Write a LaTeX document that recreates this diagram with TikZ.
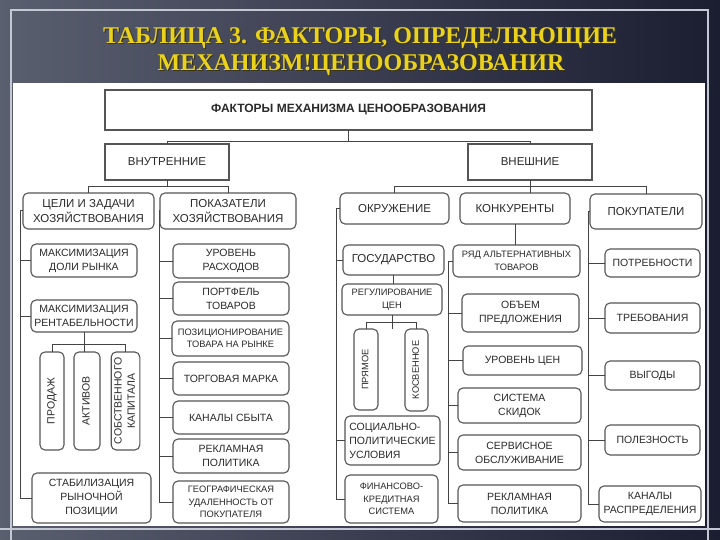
\documentclass[tikz,border=0pt]{standalone}
\usepackage{fontspec}
\setmainfont{Liberation Sans}
\newfontfamily\titlefont{Liberation Serif}
\definecolor{bgL}{HTML}{5A5F70}
\definecolor{bgR}{HTML}{1B1D30}
\definecolor{framec}{HTML}{C4C8D4}
\definecolor{boxgray}{HTML}{555555}
\definecolor{linegray}{HTML}{444444}
\definecolor{textgray}{HTML}{2A2A2A}
\definecolor{gold}{HTML}{EAD21C}
\definecolor{goldshadow}{HTML}{3A3410}
\newcommand{\bx}[7][]{\node[box,#1,minimum width={#4-#2},minimum height={#5-#3}] (#6) at ({(#2+#4)/2},{(#3+#5)/2}) {#7};}
\newcommand{\vtext}[1]{\rotatebox{90}{\renewcommand\arraystretch{0.95}\begin{tabular}{@{}c@{}}#1\end{tabular}}}
\begin{document}
\begin{tikzpicture}[x=1pt,y=-1pt,
  box/.style={draw=boxgray, line width=1.1pt, rounded corners=5pt, fill=white, inner sep=1pt, outer sep=0pt, align=center, text=textgray, font=\fontsize{10.5}{14}\selectfont},
  sq/.style={rounded corners=0pt},
  hd/.style={font=\fontsize{11.5}{15.5}\selectfont},
  sm/.style={font=\fontsize{9.3}{12.5}\selectfont},
  ttl/.style={font=\titlefont\bfseries\fontsize{24}{28}\selectfont},
  ln/.style={draw=linegray, line width=1pt}]
\useasboundingbox (0,0) rectangle (720,540);
\fill[left color=bgL, right color=bgR] (0,0) rectangle (720,540);
\draw[framec, line width=1.5pt] (11,540) -- (11,10) -- (708,10) -- (708,540);
\draw[framec, line width=1.2pt] (0,529) -- (720,529);
\fill[white] (13,83) rectangle (705,526);
% title
\node[ttl, text=goldshadow] (t1s) at (361.2,39.2) {ТАБЛИЦА 3. ФАКТОРЫ, ОПРЕДЕЛRЮЩИЕ};
\node[ttl, text=goldshadow] (t2s) at (362.2,66.2) {МЕХАНИЗМ!ЦЕНООБРАЗОВАНИR};
\node[ttl, text=gold] (t1) at (360,38) {ТАБЛИЦА 3. ФАКТОРЫ, ОПРЕДЕЛRЮЩИЕ};
\node[ttl, text=gold] (t2) at (361,65) {МЕХАНИЗМ!ЦЕНООБРАЗОВАНИR};
% spine coordinates
\coordinate (sp1) at (20,0);
\coordinate (sp2) at (159,0);
\coordinate (sp3) at (336,0);
\coordinate (sp4) at (448,0);
\coordinate (sp5) at (588,0);
% top
\bx[sq,line width=1.4pt,font=\bfseries\fontsize{12}{14}\selectfont]{105}{90}{592}{130}{main}{ФАКТОРЫ МЕХАНИЗМА ЦЕНООБРАЗОВАНИЯ}
\bx[sq,hd]{105}{144}{229}{180}{vnut}{ВНУТРЕННИЕ}
\bx[sq,hd]{468}{144}{592}{180}{vnesh}{ВНЕШНИЕ}
% internal
\bx[hd]{23}{193}{154}{229}{cel}{ЦЕЛИ И ЗАДАЧИ\\ХОЗЯЙСТВОВАНИЯ}
\bx[hd]{160}{193}{296}{229}{pok}{ПОКАЗАТЕЛИ\\ХОЗЯЙСТВОВАНИЯ}
\bx{31}{244}{137}{277}{dol}{МАКСИМИЗАЦИЯ\\ДОЛИ РЫНКА}
\bx{31}{300}{137}{332}{rent}{МАКСИМИЗАЦИЯ\\РЕНТАБЕЛЬНОСТИ}
\bx{40}{352}{64}{450}{prod}{\vtext{ПРОДАЖ}}
\bx{74}{352}{100}{450}{akt}{\vtext{АКТИВОВ}}
\bx{113}{352}{138}{450}{sob}{\vtext{СОБСТВЕННОГО\\КАПИТАЛА}}
\bx{32}{473}{151}{523}{stab}{СТАБИЛИЗАЦИЯ\\РЫНОЧНОЙ\\ПОЗИЦИИ}
\bx{173}{244}{289}{278}{ur}{УРОВЕНЬ\\РАСХОДОВ}
\bx{173}{282}{289}{315}{port}{ПОРТФЕЛЬ\\ТОВАРОВ}
\bx[sm]{172}{321}{289}{356}{poz}{ПОЗИЦИОНИРОВАНИЕ\\ТОВАРА НА РЫНКЕ}
\bx{173}{362}{289}{395}{torg}{ТОРГОВАЯ МАРКА}
\bx{173}{401}{289}{434}{kan}{КАНАЛЫ СБЫТА}
\bx{173}{439}{289}{473}{rek1}{РЕКЛАМНАЯ\\ПОЛИТИКА}
\bx[sm]{173}{481}{289}{523}{geo}{ГЕОГРАФИЧЕСКАЯ\\УДАЛЕННОСТЬ ОТ\\ПОКУПАТЕЛЯ}
% external
\bx[hd]{340}{193}{449}{224}{okr}{ОКРУЖЕНИЕ}
\bx[hd]{460}{193}{570}{224}{kon}{КОНКУРЕНТЫ}
\bx[hd]{590}{194}{702}{229}{pkp}{ПОКУПАТЕЛИ}
\bx[hd]{343}{245}{444}{275}{gos}{ГОСУДАРСТВО}
\bx[sm]{342}{284}{442}{315}{reg}{РЕГУЛИРОВАНИЕ\\ЦЕН}
\bx[sm]{354}{329}{378}{410}{pr}{\vtext{ПРЯМОЕ}}
\bx[sm]{405}{329}{428}{411}{kos}{\vtext{КОСВЕННОЕ}}
\bx[align=left]{345}{416}{440}{465}{soc}{СОЦИАЛЬНО-\\ПОЛИТИЧЕСКИЕ\\УСЛОВИЯ}
\bx[sm]{345}{475}{438}{523}{fin}{ФИНАНСОВО-\\КРЕДИТНАЯ\\СИСТЕМА}
\bx[sm]{453}{245}{580}{277}{ryad}{РЯД АЛЬТЕРНАТИВНЫХ\\ТОВАРОВ}
\bx{462}{294}{579}{332}{obj}{ОБЪЕМ\\ПРЕДЛОЖЕНИЯ}
\bx{463}{346}{582}{375}{urc}{УРОВЕНЬ ЦЕН}
\bx{458}{388}{581}{423}{sis}{СИСТЕМА\\СКИДОК}
\bx{458}{435}{581}{470}{serv}{СЕРВИСНОЕ\\ОБСЛУЖИВАНИЕ}
\bx{458}{485}{581}{522}{rek2}{РЕКЛАМНАЯ\\ПОЛИТИКА}
\bx{605}{249}{700}{277}{potr}{ПОТРЕБНОСТИ}
\bx{605}{303}{700}{333}{treb}{ТРЕБОВАНИЯ}
\bx{605}{361}{700}{390}{vyg}{ВЫГОДЫ}
\bx{605}{425}{700}{455}{pol}{ПОЛЕЗНОСТЬ}
\bx{599}{486}{701}{522}{kanr}{КАНАЛЫ\\РАСПРЕДЕЛЕНИЯ}
% connectors
\draw[ln] (main.south) -- ++(0,12) -| (vnut.north);
\draw[ln] (main.south) -- ++(0,12) -| (vnesh.north);
\draw[ln] (vnut.south) -- ++(0,7) -| (cel.north);
\draw[ln] (vnut.south) -- ++(0,7) -| (pok.north);
\draw[ln] (okr.north) -- ++(0,-6) -| (pkp.north);
\draw[ln] (vnesh.south) -- (vnesh.south |- kon.north);
\draw[ln] (kon.south) -- (kon.south |- ryad.north);
\draw[ln] (rent.south) -- (rent.south |- akt.north);
\draw[ln] (prod.north) -- ++(0,-8) -| (sob.north);
\draw[ln] (gos.south) -- (gos.south |- reg.north);
\draw[ln] (reg.south) -- (reg.south |- pr.north);
\draw[ln] (pr.north) -- ++(0,-7) -| (kos.north);
% spines
\draw[ln] (cel.west) -- (cel.west -| sp1) |- (stab.west);
\foreach \n in {dol,rent} \draw[ln] (\n.west) -- (\n.west -| sp1);
\draw[ln] (pok.west) -- (pok.west -| sp2) |- (geo.west);
\foreach \n in {ur,port,poz,torg,kan,rek1} \draw[ln] (\n.west) -- (\n.west -| sp2);
\draw[ln] (okr.west) -- (okr.west -| sp3) |- (fin.west);
\foreach \n in {gos,soc} \draw[ln] (\n.west) -- (\n.west -| sp3);
\draw[ln] (ryad.west) -- (ryad.west -| sp4) |- (rek2.west);
\foreach \n in {obj,urc,sis,serv} \draw[ln] (\n.west) -- (\n.west -| sp4);
\draw[ln] (pkp.west) -- (pkp.west -| sp5) |- (kanr.west);
\foreach \n in {potr,treb,vyg,pol} \draw[ln] (\n.west) -- (\n.west -| sp5);
\end{tikzpicture}
\end{document}
